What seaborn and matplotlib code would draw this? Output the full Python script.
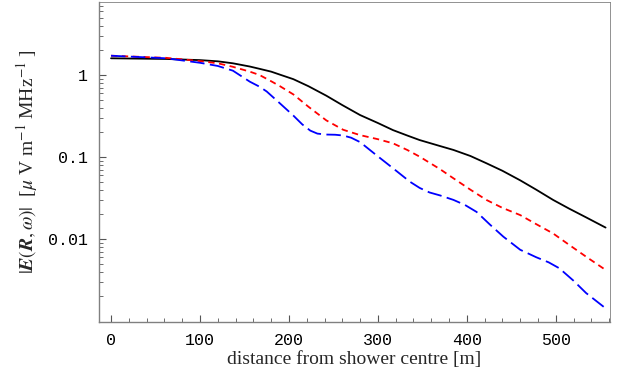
import numpy as np
import pandas as pd
import matplotlib
matplotlib.use("Agg")
import matplotlib.pyplot as plt
import seaborn as sns
from matplotlib.ticker import LogLocator, MultipleLocator, NullFormatter, FixedFormatter, FixedLocator

# values (distance in m, field in muV/m/MHz)
dist_black = [0, 62, 100, 120, 137, 156, 167, 180, 190, 205, 222, 242, 260, 280, 300, 317, 333, 347, 370,
              385, 404, 422, 440, 460, 478, 497, 515, 534, 556]
field_black = [1.60, 1.57, 1.52, 1.47, 1.39, 1.27, 1.19, 1.10, 1.01, 0.89, 0.73, 0.56, 0.43, 0.325, 0.26,
               0.213, 0.183, 0.161, 0.136, 0.122, 0.103, 0.084, 0.068, 0.052, 0.040, 0.030, 0.0235, 0.0184, 0.0138]

dist_red = [0, 62, 100, 120, 137, 156, 167, 180, 190, 205, 222, 242, 261, 280, 300, 317, 333, 347, 370, 385,
            404, 422, 440, 460, 478, 497, 515, 534, 556]
field_red = [1.72, 1.62, 1.48, 1.39, 1.26, 1.10, 1.0, 0.84, 0.73, 0.58, 0.41, 0.28, 0.215, 0.185, 0.165,
             0.147, 0.122, 0.101, 0.071, 0.055, 0.040, 0.030, 0.024, 0.0196, 0.0152, 0.0117, 0.0085, 0.0061, 0.0042]

dist_blue = [0, 62, 100, 120, 137, 156, 167, 175, 190, 205, 215, 224, 232, 242, 252, 261, 270, 280, 298, 317,
             336, 347, 358, 370, 385, 398, 411, 426, 441, 460, 478, 492, 504, 520, 534, 556]
field_blue = [1.72, 1.60, 1.41, 1.29, 1.13, 0.83, 0.72, 0.63, 0.45, 0.32, 0.25, 0.21, 0.193, 0.188, 0.187,
              0.183, 0.172, 0.152, 0.106, 0.073, 0.050, 0.042, 0.037, 0.034, 0.030, 0.026, 0.0214, 0.0150,
              0.0107, 0.0074, 0.0060, 0.0052, 0.0044, 0.0031, 0.0022, 0.00143]

sns.set_style("ticks")
plt.rcParams["font.family"] = ["Liberation Serif", "DejaVu Serif"]
plt.rcParams["mathtext.fontset"] = "stix"

fig = plt.figure(figsize=(6.19, 3.75), dpi=100)
ax = fig.add_axes([0.16, 0.141, 0.8255, 0.854])

df_b = pd.DataFrame({"d": dist_black, "E": field_black})
df_r = pd.DataFrame({"d": dist_red, "E": field_red})
df_u = pd.DataFrame({"d": dist_blue, "E": field_blue})

sns.lineplot(data=df_b, x="d", y="E", ax=ax, color="black", lw=1.3)
sns.lineplot(data=df_r, x="d", y="E", ax=ax, color="#ff0000", lw=1.3, linestyle=(0, (3.5, 2.5)))
sns.lineplot(data=df_u, x="d", y="E", ax=ax, color="#0000ff", lw=1.3, linestyle=(0, (8, 3)))

ax.set_yscale("log")
ax.set_xlim(-13.5, 561)
ax.set_ylim(0.00097, 7.8)

ax.xaxis.set_major_locator(MultipleLocator(100))
ax.xaxis.set_minor_locator(MultipleLocator(20))
ax.yaxis.set_major_locator(FixedLocator([0.01, 0.1, 1]))
ax.yaxis.set_major_formatter(FixedFormatter(["0.01", "0.1", "1"]))
ax.yaxis.set_minor_locator(LogLocator(base=10, subs=np.arange(2, 10), numticks=20))
ax.yaxis.set_minor_formatter(NullFormatter())

for lab in ax.get_xticklabels() + ax.get_yticklabels():
    lab.set_family("Liberation Mono")
    lab.set_fontsize(12)
ax.tick_params(which="both", direction="in", colors="#555555", labelcolor="black")
ax.tick_params(which="major", length=5, width=0.8, pad=8)
ax.tick_params(which="minor", length=3, width=0.6)

for s in ax.spines.values():
    s.set_color("#808080")
    s.set_linewidth(1.0)
ax.spines["top"].set_linewidth(0.6)
ax.spines["right"].set_linewidth(0.6)

ax.set_xlabel("distance from shower centre [m]", fontsize=14, labelpad=2)
ax.set_ylabel(r"$|\boldsymbol{E}(\boldsymbol{R},\omega)|$  [$\mu$ V m$^{-1}$ MHz$^{-1}$ ]", fontsize=14, labelpad=6)

fig.savefig("out.png", dpi=100)
